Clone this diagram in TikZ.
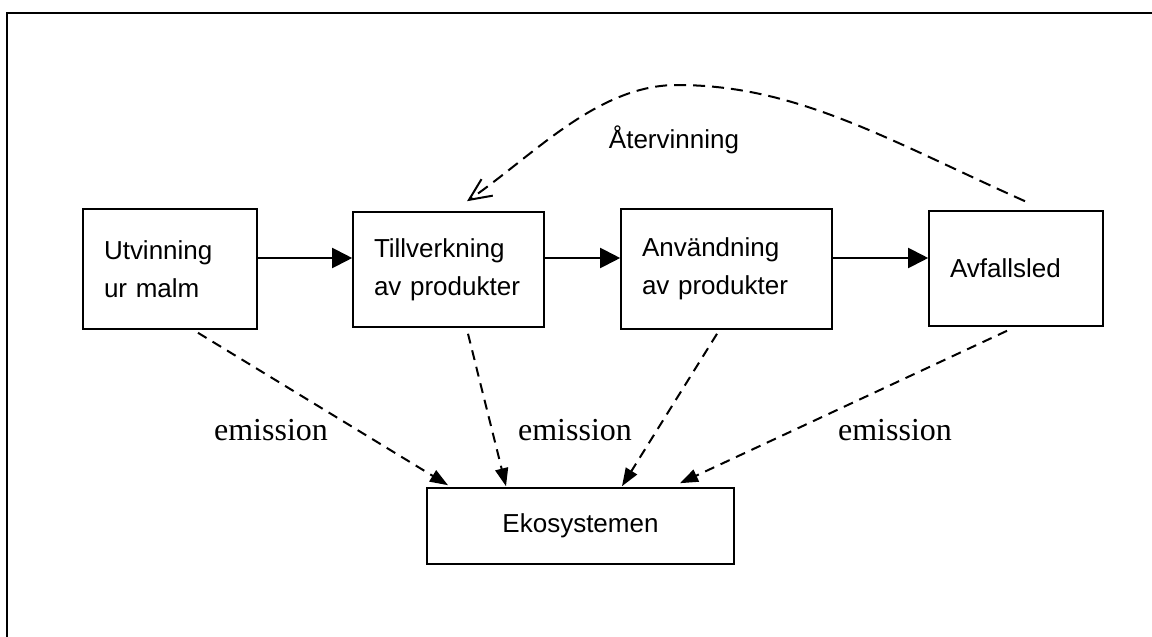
\documentclass[tikz,border=0pt]{standalone}
\usepackage{fontspec}
\setmainfont{Liberation Sans}
\newfontfamily\timesfont{Liberation Serif}
\usetikzlibrary{arrows.meta,calc}

\begin{document}
\begin{tikzpicture}[x=0.5pt,y=-0.5pt,
  box/.style={draw,line width=0.8pt,inner xsep=10.5pt,align=left,font=\fontsize{13}{19}\selectfont},
  flow/.style={line width=1pt,-{Triangle[length=10pt,width=10pt]}},
  emit/.style={line width=1pt,dash pattern=on 5pt off 3.5pt,-{Triangle[length=9pt,width=6.5pt]}},
  emlabel/.style={font=\timesfont\fontsize{16}{19}\selectfont,anchor=base}]
  \useasboundingbox (0,0) rectangle (1152,637);
  \draw[line width=1pt] (1152,13) -- (7,13) -- (7,637);
  % process chain
  \node[box,text width=66pt,minimum height=60pt] (utv) at (170,269) {Utvinning\\ur malm};
  \node[box,text width=74.5pt,minimum height=57.5pt] (till) at (448.5,269.5) {Tillverkning\\av~produkter};
  \node[box,text width=84.5pt,minimum height=60pt] (anv) at (726.5,269) {Användning\\av~produkter};
  \node[box,text width=66pt,minimum height=57.5pt] (avf) at (1016,268.5) {Avfallsled};
  \node[box,minimum width=153.5pt,minimum height=38pt] (eko) at (580.5,526) {Ekosystemen};
  \coordinate (flowrow) at (0,258);
  \draw[flow] (utv.east |- flowrow) -- (till.west |- flowrow);
  \draw[flow] (till.east |- flowrow) -- (anv.west |- flowrow);
  \draw[flow] (anv.east |- flowrow) -- (avf.west |- flowrow);
  % emissions
  \draw[emit] ($(utv.south)+(28,3)$) -- ($(eko.north)+(-132.5,-2)$);
  \draw[emit] ($(till.south)+(19.5,6)$) -- ($(eko.north)+(-74.5,-1)$);
  \draw[emit] ($(anv.south)+(-9.5,4)$) -- ($(eko.north)+(41.5,-1)$);
  \draw[emit] ($(avf.south)+(-9,4)$) -- ($(eko.north)+(99.5,-4)$);
  \node[emlabel] (em1) at (271,440) {emission};
  \node[emlabel] (em2) at (575,440) {emission};
  \node[emlabel] (em3) at (895,440) {emission};
  % recycling loop
  \coordinate (recA) at ($(avf.north)+(9,-9)$);
  \coordinate (recB) at ($(till.north)+(18.5,-10)$);
  \coordinate (recTop) at (677,85);
  \draw[line width=1pt,dash pattern=on 6pt off 3.5pt,-{Straight Barb[length=11pt,width=10pt]}]
    (recA) .. controls (888,140) and (797,85) .. (recTop)
    .. controls (597,85) and (533,156) .. (recB);
  \node[font=\fontsize{13}{19}\selectfont,anchor=base] (atv) at (674,148) {Återvinning};
\end{tikzpicture}
\end{document}
